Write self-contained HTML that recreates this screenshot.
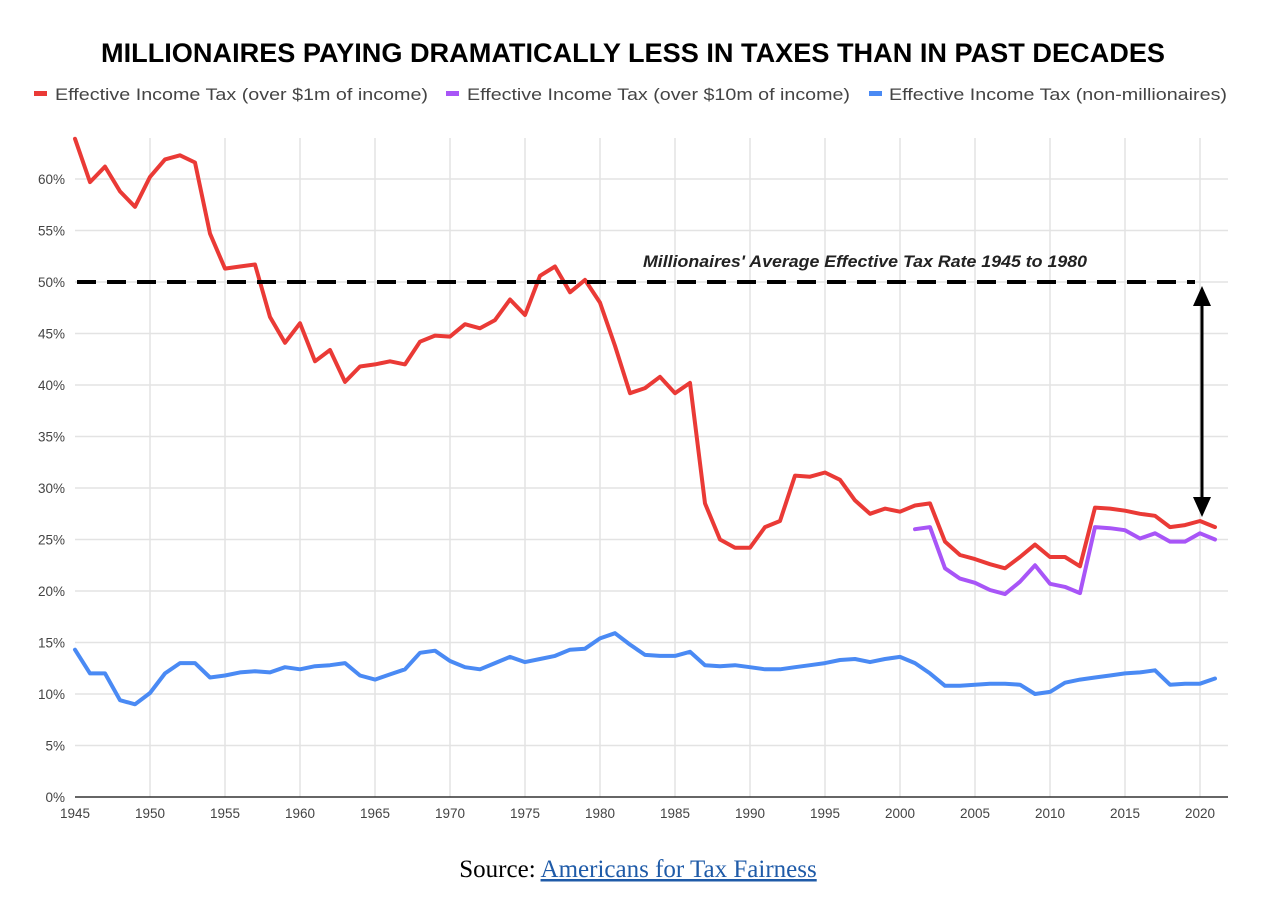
<!DOCTYPE html>
<html><head><meta charset="utf-8"><style>
html,body{margin:0;padding:0;background:#fff;width:1268px;height:904px;overflow:hidden}
svg{display:block}
</style></head><body>
<svg id="chart" width="1268" height="904" viewBox="0 0 1268 904" xmlns="http://www.w3.org/2000/svg">
<text x="633" y="62" text-anchor="middle" font-family="'Liberation Sans',sans-serif" font-weight="bold" font-size="27" textLength="1064" lengthAdjust="spacingAndGlyphs" fill="#000">MILLIONAIRES PAYING DRAMATICALLY LESS IN TAXES THAN IN PAST DECADES</text>
<g font-family="'Liberation Sans',sans-serif" font-size="17" fill="#444">
<g><rect x="34" y="91" width="13" height="5" fill="#ea3a36"/><text x="55" y="100" textLength="373" lengthAdjust="spacingAndGlyphs">Effective Income Tax (over $1m of income)</text></g>
<g><rect x="446" y="91" width="13" height="5" fill="#a855f7"/><text x="467" y="100" textLength="383" lengthAdjust="spacingAndGlyphs">Effective Income Tax (over $10m of income)</text></g>
<g><rect x="869" y="91" width="13" height="5" fill="#4a8af4"/><text x="889" y="100" textLength="338" lengthAdjust="spacingAndGlyphs">Effective Income Tax (non-millionaires)</text></g>
</g>
<g id="grid"></g>
<g id="axes"></g>
<g id="series"></g>
<g>
<line id="avgline" x1="77" x2="1195" stroke="#000" stroke-width="4" stroke-dasharray="19,11"/>
<text x="865" y="267" text-anchor="middle" font-family="'Liberation Sans',sans-serif" font-style="italic" font-weight="bold" font-size="17" textLength="444" lengthAdjust="spacingAndGlyphs" fill="#222">Millionaires' Average Effective Tax Rate 1945 to 1980</text>
<g id="arrow"></g>
</g>
<text x="638" y="877" text-anchor="middle" font-family="'Liberation Serif',serif" font-size="25" fill="#000">Source: <tspan fill="#1f5ba8" text-decoration="underline">Americans for Tax Fairness</tspan></text>
</svg>
<script>
const years = [];
for (let y = 1945; y <= 2021; y++) years.push(y);
const over1m = [63.9,59.7,61.2,58.8,57.3,60.2,61.9,62.3,61.6,54.7,51.3,51.5,51.7,46.6,44.1,46.0,42.3,43.4,40.3,41.8,42.0,42.3,42.0,44.2,44.8,44.7,45.9,45.5,46.3,48.3,46.8,50.6,51.5,49.0,50.2,48.0,43.8,39.2,39.7,40.8,39.2,40.2,28.5,25.0,24.2,24.2,26.2,26.8,31.2,31.1,31.5,30.8,28.8,27.5,28.0,27.7,28.3,28.5,24.8,23.5,23.1,22.6,22.2,23.3,24.5,23.3,23.3,22.4,28.1,28.0,27.8,27.5,27.3,26.2,26.4,26.8,26.2];
const over10mYears = [2001,2002,2003,2004,2005,2006,2007,2008,2009,2010,2011,2012,2013,2014,2015,2016,2017,2018,2019,2020,2021];
const over10m = [26.0,26.2,22.2,21.2,20.8,20.1,19.7,20.9,22.5,20.7,20.4,19.8,26.2,26.1,25.9,25.1,25.6,24.8,24.8,25.6,25.0];
const nonMillionaires = [14.3,12.0,12.0,9.4,9.0,10.1,12.0,13.0,13.0,11.6,11.8,12.1,12.2,12.1,12.6,12.4,12.7,12.8,13.0,11.8,11.4,11.9,12.4,14.0,14.2,13.2,12.6,12.4,13.0,13.6,13.1,13.4,13.7,14.3,14.4,15.4,15.9,14.8,13.8,13.7,13.7,14.1,12.8,12.7,12.8,12.6,12.4,12.4,12.6,12.8,13.0,13.3,13.4,13.1,13.4,13.6,13.0,12.0,10.8,10.8,10.9,11.0,11.0,10.9,10.0,10.2,11.1,11.4,11.6,11.8,12.0,12.1,12.3,10.9,11.0,11.0,11.5];
const yTicks = [0,5,10,15,20,25,30,35,40,45,50,55,60];
const xTicks = [1945,1950,1955,1960,1965,1970,1975,1980,1985,1990,1995,2000,2005,2010,2015,2020];
const avgRate = 50;

const X = yr => 75 + (yr - 1945) * 15.0;
const Y = v => 797 - v * 10.3;
const NS = 'http://www.w3.org/2000/svg';
function mk(tag, attrs, parent){const e=document.createElementNS(NS,tag);for(const k in attrs)e.setAttribute(k,attrs[k]);parent.appendChild(e);return e;}
const grid=document.getElementById('grid'), axes=document.getElementById('axes'), series=document.getElementById('series');
yTicks.forEach(t=>{
  if(t>0){const l=mk('line',{x1:75,x2:1228,y1:Y(t),y2:Y(t),stroke:'#e3e3e3','stroke-width':1.5},grid);
  
  }
  const tx=mk('text',{x:65,y:Y(t)+5,'text-anchor':'end','font-family':"'Liberation Sans',sans-serif",'font-size':13.5,fill:'#444'},axes);
  tx.textContent=t+'%';
  
  
});
xTicks.forEach(t=>{
  if(t>1945){const l=mk('line',{x1:X(t),x2:X(t),y1:138,y2:797,stroke:'#e3e3e3','stroke-width':1.5},grid);
  
  }
  const tx=mk('text',{x:X(t),y:818,'text-anchor':'middle','font-family':"'Liberation Sans',sans-serif",'font-size':13.5,fill:'#444'},axes);
  tx.textContent=t;
  
  
});
const ax=mk('line',{x1:75,x2:1228,y1:797,y2:797,stroke:'#333','stroke-width':1.5},axes);


function line(xs, vs, color, name){
  const d=xs.map((yr,i)=>(i?'L':'M')+X(yr).toFixed(1)+','+Y(vs[i]).toFixed(1)).join(' ');
  const p=mk('path',{d:d,fill:'none',stroke:color,'stroke-width':4,'stroke-linejoin':'round','stroke-linecap':'round'},series);
  
  
}
line(years, nonMillionaires, '#4a8af4', 'line-non-millionaires');
line(years, over1m, '#ea3a36', 'line-over-1m');
line(over10mYears, over10m, '#a855f7', 'line-over-10m');
const avg=document.getElementById('avgline');
avg.setAttribute('y1',Y(avgRate));avg.setAttribute('y2',Y(avgRate));
const arr=document.getElementById('arrow');
const ay1=Y(avgRate)+4, ay2=Y(over1m[over1m.length-2])-4, axp=1202;
const sh=mk('line',{x1:axp,x2:axp,y1:ay1+16,y2:ay2-16,stroke:'#000','stroke-width':3},arr);


const h1=mk('polygon',{points:`${axp},${ay1} ${axp-9},${ay1+20} ${axp+9},${ay1+20}`,fill:'#000'},arr);


const h2=mk('polygon',{points:`${axp},${ay2} ${axp-9},${ay2-20} ${axp+9},${ay2-20}`,fill:'#000'},arr);


</script>
</body></html>
